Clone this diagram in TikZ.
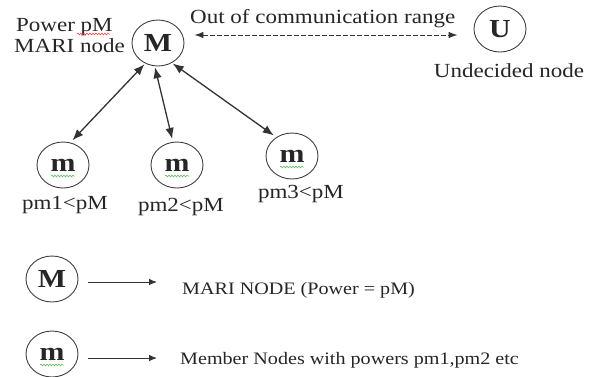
\documentclass[tikz,border=0pt]{standalone}
\usepackage{fontspec}
\setmainfont{Liberation Serif}[FakeStretch=1.15]
\usetikzlibrary{arrows.meta,shapes.geometric,decorations.pathmorphing}

\begin{document}
\begin{tikzpicture}[x=1pt,y=-1pt,
  lbl/.style={inner sep=0pt,font=\fontsize{20}{22}\selectfont,text=black!85},
  keylbl/.style={inner sep=0pt,font=\fontsize{17.5}{20}\selectfont,text=black!85},
  pnode/.style={ellipse,draw=black!75,line width=0.9pt,minimum width=52pt,minimum height=46pt,inner sep=0pt,
    font=\fontsize{26}{27}\selectfont\bfseries,text=black!85},
  link/.style={{Latex[length=11pt,width=8.5pt]}-{Latex[length=11pt,width=8.5pt]},line width=1.3pt,draw=black!80},
  farlink/.style={{Latex[length=9pt,width=6.5pt]}-{Latex[length=9pt,width=6.5pt]},dash pattern=on 4.5pt off 2.5pt,line width=0.9pt,draw=black!80},
  keyarrow/.style={-{Latex[length=8pt,width=6.5pt]},line width=0.9pt,draw=black!80},
  squiggle/.style={decorate,decoration={snake,segment length=3pt,amplitude=0.9pt},line width=0.5pt}
]
\useasboundingbox[fill=white] (0,0) rectangle (589,376);

% main MARI node and its captions
\node[pnode] (M) at (158,43) {M};
\node[lbl,anchor=west] (pw) at (16,27) {Power pM};
\node[lbl,anchor=west] (mari) at (14,46) {MARI node};

% undecided node outside range
\node[pnode] (U) at (500,29) {U};
\node[lbl] (und) at (509,71) {Undecided node};
\node[lbl,anchor=west] (range) at (190,19) {Out of communication range};
\draw[farlink] ([shift={(10,-8)}]M.east) -- ([shift={(-16,6)}]U.west);

% member nodes
\node[pnode] (m1) at (63,165) {m};
\node[pnode] (m2) at (177,165) {m};
\node[pnode] (m3) at (292,156) {m};
\node[lbl] (l1) at (65,205) {pm1<pM};
\node[lbl] (l2) at (181,207) {pm2<pM};
\node[lbl] (l3) at (301,194) {pm3<pM};

\draw[link,shorten <=1pt,shorten >=3pt] (M.238) -- (m1.72);
\draw[link,shorten <=1pt,shorten >=3pt] (M.262) -- (m2.100);
\draw[link,shorten <=1pt,shorten >=3pt] (M.305) -- (m3.130);

% legend
\node[pnode] (kM) at (52,279) {M};
\node[pnode] (km) at (52,354) {m};
\coordinate (kMa) at (88,282);
\coordinate (kMb) at (157,282);
\coordinate (kma) at (88,358);
\coordinate (kmb) at (157,358);
\draw[keyarrow] (kMa) -- (kMb);
\draw[keyarrow] (kma) -- (kmb);
\node[keylbl,anchor=west] (kMt) at (182,290) {MARI NODE (Power = pM)};
\node[keylbl,anchor=west] (kmt) at (180,360) {Member Nodes with powers pm1,pm2 etc};

% spell-check underlines
\draw[squiggle,red!80] (77,34) -- (110,34);
\foreach \n in {m1,m2,m3,km}{
  \draw[squiggle,green!60!black!70] ([shift={(-12,11)}]\n.center) -- ([shift={(12,11)}]\n.center);
}
\end{tikzpicture}
\end{document}
